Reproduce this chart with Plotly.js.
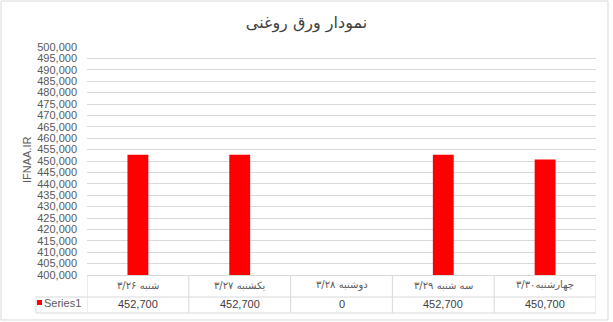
<!DOCTYPE html>
<html>
<head>
<meta charset="utf-8">
<script src="https://cdn.plot.ly/plotly-3.0.1.min.js"></script>
<style>
html,body{margin:0;padding:0;background:#fff;}
#chart{width:613px;height:322px;}
</style>
</head>
<body>
<div id="chart"></div>
<script>
// ---- data ----
const chartTitle = "نمودار ورق روغنی";
const yAxisTitle = "IFNAA.IR";
const seriesName = "Series1";
const categories = ["شنبه ۳/۲۶", "یکشنبه ۳/۲۷", "دوشنبه ۳/۲۸", "سه شنبه ۳/۲۹", "چهارشنبه۳/۳۰"];
const values = [452700, 452700, 0, 452700, 450700];
const yMin = 400000;
const yMax = 500000;
const yStep = 5000;

// ---- layout helpers (pixel geometry) ----
const W = 613, H = 322;
const M = {l: 87, r: 17, t: 47, b: 47};
const pw = W - M.l - M.r, ph = H - M.t - M.b;
const px = x => (x - M.l) / pw;          // pixel x -> paper x
const py = y => (H - M.b - y) / ph;      // pixel y -> paper y

const gridC = "#d9d9d9";
const textC = "#595959";
const numFont = "Liberation Sans, Arial, sans-serif";
const faFont = "DejaVu Sans, sans-serif";

const fmt = v => v.toLocaleString("en-US");

const trace = {
  type: "bar",
  x: categories.map((c, i) => i),
  y: values,
  name: seriesName,
  marker: {color: "#ff0000"},
  width: 0.205,
  hoverinfo: "none"
};

const shapes = [];
const line = (x0, y0, x1, y1, xref) => shapes.push({
  type: "line", xref: xref || "paper", yref: "paper",
  x0, y0, x1, y1, line: {color: gridC, width: 1}
});
// outer chart border
shapes.push({type: "rect", xref: "paper", yref: "paper",
  x0: px(1), x1: px(608), y0: py(1), y1: py(320),
  line: {color: gridC, width: 1}, fillcolor: "rgba(0,0,0,0)"});
// table lines
const rowMid = py(297), rowBot = py(313), colLeft = px(36);
line(colLeft, rowMid, 1, rowMid);
line(colLeft, rowBot, 1, rowBot);
line(colLeft, rowMid, colLeft, rowBot);
for (let i = 0; i <= categories.length; i++) {
  line(i - 0.5, 0, i - 0.5, rowBot, "x");
}
// legend key
shapes.push({type: "rect", xref: "paper", yref: "paper",
  x0: px(37), x1: px(42), y0: py(300), y1: py(305),
  line: {width: 0}, fillcolor: "#ff0000"});

const annotations = [];
categories.forEach((c, i) => {
  annotations.push({xref: "x", yref: "paper", x: i, y: py(285),
    text: c, showarrow: false, xanchor: "center", yanchor: "middle",
    font: {family: faFont, size: 10, color: textC}});
  annotations.push({xref: "x", yref: "paper", x: i, y: py(304),
    text: fmt(values[i]), showarrow: false, xanchor: "center", yanchor: "middle",
    font: {family: numFont, size: 11, color: "#404040"}});
});
annotations.push({xref: "paper", yref: "paper", x: px(42), y: py(303),
  text: seriesName, showarrow: false, xanchor: "left", yanchor: "middle",
  font: {family: numFont, size: 11, color: textC}});
annotations.push({xref: "paper", yref: "paper", x: px(27), y: py(160),
  text: yAxisTitle, textangle: -90, showarrow: false, xanchor: "center", yanchor: "middle",
  font: {family: numFont, size: 11, color: textC}});

const layout = {
  width: W, height: H,
  margin: M,
  paper_bgcolor: "#fff", plot_bgcolor: "#fff",
  showlegend: false,
  title: {text: chartTitle, x: 0.5, xref: "container", xanchor: "center",
    y: 1 - 22 / H, yref: "container", yanchor: "middle",
    font: {family: faFont, size: 16, color: "#404040"}},
  xaxis: {type: "linear", range: [-0.5, categories.length - 0.5],
    showticklabels: false, showgrid: false, zeroline: false,
    showline: true, linecolor: gridC, linewidth: 1, ticks: "", fixedrange: true},
  yaxis: {range: [yMin, yMax], dtick: yStep, tick0: yMin, tickformat: ",",
    showgrid: true, gridcolor: gridC, gridwidth: 1, zeroline: false,
    showline: false, ticks: "", ticklabelstandoff: 9,
    tickfont: {family: numFont, size: 11, color: textC}, fixedrange: true},
  shapes, annotations
};

Plotly.newPlot("chart", [trace], layout, {staticPlot: true, displayModeBar: false});
</script>
</body>
</html>
